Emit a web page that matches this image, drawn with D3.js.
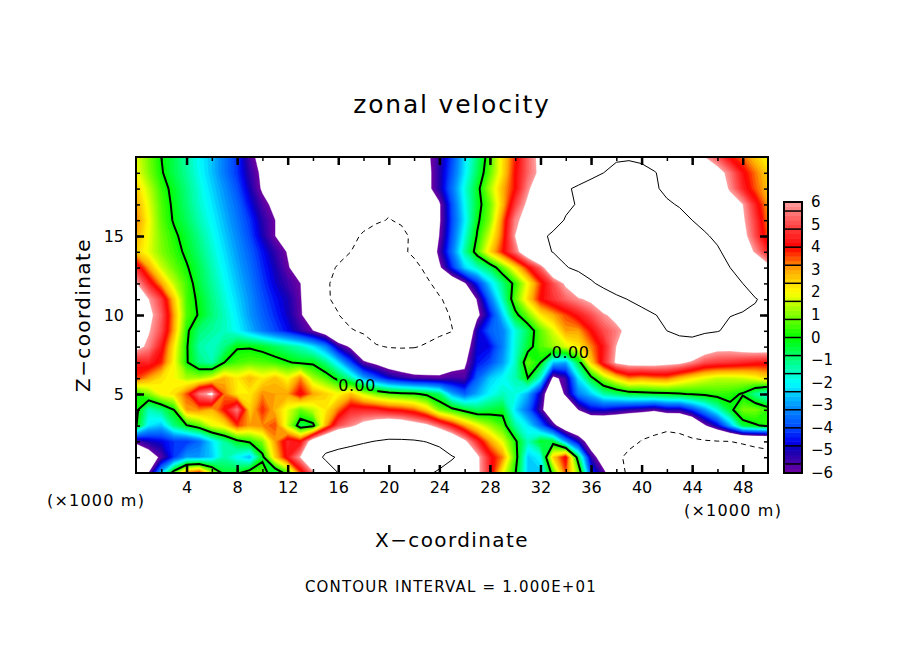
<!DOCTYPE html>
<html>
<head>
<meta charset="utf-8">
<script src="https://cdnjs.cloudflare.com/ajax/libs/d3/7.8.5/d3.min.js"></script>
<style>
  body { margin: 0; background: #fff; }
  text { font-family: "DejaVu Sans", sans-serif; fill: #000; }
</style>
</head>
<body>
<svg id="chart" width="904" height="654"></svg>
<script>
// zonal velocity: one value per km in x (0..50), one row per km in z
const xKm = d3.range(0, 51);
const z20 = [1.8,.9,0,-.6,-1.3,-2,-2.6,-3.4,-4.2,-5.6, -6.6,-7,-7.5,-7.8,-8,-8.3,-8.5,-8.7,-8.8,-8.9, -9,-8.6,-8,-6.3,-5.3,-4,-2.3,-.9,.5,2.3, 3.8,5.3,6.4,7,7.5,8,8.5,9,9.5,9.7, 9.5,9.2,9,8,7,6,5.1,4,3.4,2.6,2];
const z19 = [2,1,.1,-.6,-1.2,-1.9,-2.6,-3.4,-4.2,-5.3, -6.3,-6.8,-7.2,-7.6,-8,-8.3,-8.5,-8.7,-8.8,-8.8, -8.8,-8.5,-8,-6.5,-5.2,-3.8,-2.2,-.7,.7,2.3, 4,5.3,6.3,7,7.5,8.2,9,10,11,11, 10.7,10.1,9.5,8.8,8,7.3,6.6,5.5,4.2,3.3,2.5];
const z18 = [2.6,1.5,.4,-.3,-1,-1.7,-2.4,-3.1,-3.9,-5, -6.2,-6.6,-7,-7.4,-7.8,-8.2,-8.5,-8.8,-9,-9.1, -9.2,-8.8,-8.2,-6.5,-5.2,-3.5,-1.8,-.3,1.3,2.8, 4,5.7,7.3,8.5,9.6,10.5,11.5,12.3,13,12.6, 12,10.5,9.2,8.6,8,7.5,7,5.8,4.5,3.5,2.7];
const z17 = [3,1.8,.6,-.2,-.9,-1.6,-2.2,-2.9,-3.6,-4.6, -5.6,-6.4,-7,-7.4,-7.8,-8.2,-8.5,-8.9,-9.2,-9.4, -9.6,-9.1,-8.5,-7.3,-6.2,-3.9,-2,-.4,.8,2.7, 4.8,6.3,7.5,8.5,9.5,10.2,11,12.3,13.5,13.7, 13.5,12,10.5,9.7,9,8.3,7.5,6.8,6,4.4,3];
const z16 = [3.3,2,.7,-.1,-.7,-1.4,-2,-2.7,-3.4,-4.2, -5.2,-6,-6.8,-7.2,-7.5,-8,-8.5,-9,-9.5,-9.7, -10.1,-9.7,-9.3,-7.8,-6.2,-4,-2.2,-.2,1,3.3, 5.7,6.6,7.5,8.9,10.2,11.1,12,13,14,14.3, 14.5,13.5,12.5,11.2,10,9,8,7,6.2,4.8,3.2];
const z15 = [2.9,1.9,.9,.2,-.4,-1.1,-1.8,-2.5,-3.2,-4, -5,-6,-7,-7.5,-8,-8.5,-9,-9.6,-10.2,-11, -11.5,-10.6,-9.5,-7.6,-6,-3.8,-1.8,.1,1.7,3.5, 6,7.7,9.4,10.5,11.5,12.5,13.5,14.3,15,15, 15,14.3,13.5,12.5,11.5,10.4,9.3,7.9,6.5,5,3.5];
const z14 = [2.6,1.8,1,.4,-.2,-.9,-1.6,-2.3,-3,-3.7, -4.5,-5.3,-6.1,-6.8,-7.5,-8.2,-9,-10,-11,-11.5, -12,-10.6,-9.4,-8,-5.6,-3.5,-1.3,.5,2.4,3.9, 5.4,7.3,9.2,10.1,11,12,13,14,15,15.3, 15.5,15,14.5,13.5,12.5,11.5,10.5,8.8,7,5.8,4.5];
const z13 = [4.6,3,1.6,.8,.1,-.6,-1.4,-2.1,-2.8,-3.5, -4.3,-5,-5.9,-6.7,-7.7,-9,-10.3,-11,-11.7,-12.2, -12.5,-11.8,-10.9,-9.3,-6.3,-4.3,-2.4,-1.5,-.7,.7, 2.3,3.9,5.3,7.7,9.8,10.7,11.7,12.9,14,14.8, 15.5,15.3,15,14,13,12,11,10,9,7.8,6.5];
const z12 = [6.1,4.5,3,1.5,.5,-.5,-1.2,-1.9,-2.6,-3.3, -4.1,-4.8,-5.4,-6,-7.5,-9.7,-10.6,-11.3,-12,-12.5, -13,-12.7,-12,-10.5,-9,-7.5,-6.2,-4.3,-2.4,-1, .3,2,3.7,5,6.2,7.9,9.5,11,12.5,13.5, 14.5,14.8,15,14.3,13.5,12.5,11.5,10.7,10,9,8];
const z11 = [7.5,6,4.8,2.6,.5,-.2,-1,-1.7,-2.4,-3.1, -3.9,-4.5,-5,-5.9,-7.5,-9.7,-10.5,-11.8,-13,-13.5, -14,-13.5,-13,-11.7,-10.3,-9,-8,-5.9,-3.5,-1.5, .7,2.4,4,4.7,5.3,5.8,6.3,7.7,9,10.2, 11.5,12.8,14,14,14,13,12,11.4,10.8,10.1,9.5];
const z10 = [7.5,6.4,5.2,3,.6,-.1,-.9,-1.5,-2.2,-3, -3.7,-4.3,-4.9,-5.8,-7.4,-8.7,-9.9,-11.4,-13,-14, -15,-14.3,-13.5,-12.3,-11,-9.7,-9,-6.4,-4.5,-2.5, -.3,.9,2.2,2.9,3.6,4.3,5,5.8,6.5,7.5, 8.5,9.8,11,11.3,11.5,11,10.5,10.1,9.8,9.7,9.5];
const z9 = [7,6.1,5,2.9,.2,-.9,-1.2,-1.5,-2,-2.7, -3.4,-4,-4.6,-5.3,-6,-7,-8.7,-9.7,-10.5,-11.8, -13,-12.5,-12,-11,-10.4,-10.1,-8.5,-5,-3.7,-3.3, -1.8,-.7,.7,1.7,3,3,4,5,5.6,6.5, 8,9,10,10.8,11,10.6,10.2,9.2,8,8,8];
const z8 = [6.5,5.7,4.3,2.2,.1,-1.3,-1.6,-1,-.1,-.1, -.3,-.7,-1.1,-1.5,-2.2,-3.2,-5.2,-6.3,-8,-9.7, -10.2,-10.3,-10.2,-9.7,-9.3,-8,-7,-4.8,-4.6,-3.3, -1.7,-.4,.6,1.2,1.7,2.2,3.2,4.3,6,6.6, 7,7.5,8,8.3,8.5,7,6.5,6.5,6.8,7,7];
const z7 = [4.4,4.5,3.8,2,.1,-1,-1.4,0,.5,.7, .6,.4,.1,-.2,-.2,-1,-2.3,-4,-5.8,-6.4, -7,-7.3,-7.5,-7.3,-7,-6.7,-6.3,-4.5,-4,-3, -1.6,.8,0,-2.5,-2.8,-.5,2.5,4.5,6.2,6.6, 6.7,6.7,6.5,6.3,5.7,5,4.8,4.7,4.5,4.3,4.2];
const z6 = [3.7,3,2.3,2,1.3,1.3,1.8,2.8,2.2,2.8, 2.2,2.7,2,3.2,1.3,.6,-.3,-1.3,-2.8,-3.8, -4.7,-5.2,-5.6,-5.7,-5.8,-5.5,-5.6,-3.7,-2.5,-2, -1.4,0,-1.7,-6.5,-5.4,-2.2,-.3,1.2,2.3,3.2, 3,3.2,3.3,2.7,2.2,1.8,1.5,1.5,1.6,1.9,2.4];
const z5 = [0,1,2,2.3,3.5,5.5,6.3,3.3,2.2,2.2, 3.2,3,3,4.2,3,2.5,2,2.7,1.6,.9, .5,.3,.15,-.2,-.8,-2.8,-3.7,-2.8,-2,-1.5, -1.8,-2.8,-5,-8,-5.7,-3.3,-2.5,-1.3,-.9,-.5, -.4,-.3,-.2,-.1,.1,.2,.4,.3,-.1,-1.2,-2];
const z4 = [.3,-1.5,-1,0,3,3.2,2.8,4,5.6,2.5, 3.8,2.8,1.8,.8,1.5,2.2,3.3,4.5,4.5,4.4, 4,3.8,3.4,2.5,.9,.3,-.3,-.8,-.5,-.3, -2.3,-3.6,-5.5,-8,-8.5,-6,-4.8,-4.7,-5,-5.3, -5.5,-5.8,-5.2,-5.2,-4.2,-3,-1.7,-.3,.9,.9,.4];
const z3 = [.1,-2.2,-2.6,-1,-.1,.6,1.8,2.2,3.7,3, 3.2,3.6,1.5,-.6,-.3,2.8,5,5.7,6.5,7, 7.5,7.3,6.8,6.3,5.3,4.2,3,2,1.2,.5, -1.3,-2.2,-3.6,-5.5,-7.5,-8,-8.5,-8.5,-8.5,-8.8, -9,-9.2,-9.4,-9.2,-8.5,-6.2,-4.8,-2.8,-.5,-.1,.2];
const z2 = [-5.7,-5,-4.7,-4.2,-4.2,-3.6,-2.3,-1.2,-.3,.2, 1,3,4.5,4,7,8.5,9,9.3,9.7,10.1, 10.4,10.4,10.3,9.9,9.2,7.8,6.3,4.5,3,1.8, .2,-1.5,-.3,-.5,-3,-5,-7,-8,-8.5,-9.2, -10.1,-10.5,-11,-10.8,-10.4,-10.3,-10.1,-10,-9.8,-9.6,-9.5];
const z1 = [-8,-7,-5.7,-4.2,-3,-3,-2.5,-1.3,-2,-2.7, -.3,2.5,4.3,6,8.5,10.5,11,11.5,12,12.3, 12.5,12.5,12.5,12,11.5,10.2,9.3,6.3,4.3,3.2, .5,-2.5,-2,2.5,4.2,-.7,-5.3,-7,-9.3,-10.7, -12,-12.5,-13,-13,-13,-12.5,-12,-11.5,-11,-10.7,-10.5];
const z0 = [-8.5,-6,-2.5,.7,3.3,4,1.5,-.4,-.2,.6, .7,-1,.5,3.5,5.6,8,10,11,12,12.5, 13,13,12.5,10.5,9.5,9,9,6.3,4.5,2, .1,-2.5,-2.5,.5,3.5,1,-4,-5.7,-7.5,-11, -13,-13,-13,-13.5,-13.5,-13,-13,-12.5,-12,-11,-10.3];

const xTickLabels = [4, 8, 12, 16, 20, 24, 28, 32, 36, 40, 44, 48];
const zTickLabels = [5, 10, 15];
const keyLabels = [-6, -5, -4, -3, -2, -1, 0, 1, 2, 3, 4, 5, 6];

const rows = [z20, z19, z18, z17, z16, z15, z14, z13, z12, z11, z10,
              z9, z8, z7, z6, z5, z4, z3, z2, z1, z0];

// fill levels every 0.2, white outside +-6
const levels = d3.range(0, 61).map((i) => -6 + i * 0.2);
const paletteStops = [-6, -5.5, -5, -4.6, -4, -3, -2, -1, 0, 1, 2, 3, 4, 5, 6];
const paletteColors = ["#7000a0", "#4400aa", "#1400b0", "#0000f0", "#0048ff", "#0096ff",
  "#00ffff", "#00ff80", "#00ff00", "#80ff00", "#ffff00", "#ffa800", "#ff0000", "#ff4848", "#ffa0a0"];
const color = d3.scaleLinear().domain(paletteStops).range(paletteColors);

const svg = d3.select("#chart");
const x = d3.scaleLinear().domain([0, 50]).range([136, 768]);
const z = d3.scaleLinear().domain([0, 20]).range([473, 157]);
const keyY = d3.scaleLinear().domain([-6, 6]).range([473, 202]);

const defs = svg.append("defs");
defs.append("clipPath").attr("id", "plot-clip").append("rect")
  .attr("x", x(0)).attr("y", z(20)).attr("width", x(50) - x(0)).attr("height", z(0) - z(20));

// holes in the zero contour for its two labels
const zeroLabels = [[16, 5.57], [32.9, 7.66]];
const mask = defs.append("mask").attr("id", "label-gap").attr("maskUnits", "userSpaceOnUse")
  .attr("x", 0).attr("y", 0).attr("width", 904).attr("height", 654);
mask.append("rect").attr("width", 904).attr("height", 654).attr("fill", "#fff");
mask.selectAll("rect.gap").data(zeroLabels).join("rect").attr("class", "gap")
  .attr("x", (d) => x(d[0]) - 1).attr("y", (d) => z(d[1]) - 10)
  .attr("width", 40).attr("height", 20).attr("fill", "#000");

const grid = rows.flat();
const contours = d3.contours().size([xKm.length, rows.length]);
const toPlot = d3.geoTransform({
  point(i, j) {
    this.stream.point(x(i - 0.5), z(20 - (j - 0.5)));
  },
});
const path = d3.geoPath(toPlot);

const plot = svg.append("g").attr("clip-path", "url(#plot-clip)");
plot.selectAll("path.band")
  .data(levels.map((t) => contours.contour(grid, t)))
  .join("path")
  .attr("class", "band")
  .attr("d", path)
  .attr("fill", (d) => (d.value >= 5.999 ? "#fff" : color(d.value + 0.1)))
  .attr("stroke", (d) => (d.value >= 5.999 ? "#fff" : color(d.value + 0.1)))
  .attr("stroke-width", 0.4);

// contour lines: interval 10, zero heavy, negative dashed
plot.append("path").datum(contours.contour(grid, 10)).attr("d", path)
  .attr("fill", "none").attr("stroke", "#000").attr("stroke-width", 1);
plot.append("path").datum(contours.contour(grid, -10)).attr("d", path)
  .attr("fill", "none").attr("stroke", "#000").attr("stroke-width", 1).attr("stroke-dasharray", "5 4");
plot.append("g").attr("mask", "url(#label-gap)")
  .append("path").datum(contours.contour(grid, 0)).attr("d", path)
  .attr("fill", "none").attr("stroke", "#000").attr("stroke-width", 2);

plot.selectAll("text.zero").data(zeroLabels).join("text").attr("class", "zero")
  .attr("x", (d) => x(d[0])).attr("y", (d) => z(d[1]) + 6)
  .attr("font-size", 16).attr("letter-spacing", 0.5).text("0.00");

// axes, ticks pointing inward on all four sides
const xMinor = d3.range(2, 50, 2);
const zMinor = d3.range(1, 20, 1);
function drawAxis(axisFn, scale, minor, major, translate, labelled, padding) {
  const minorAxis = axisFn(scale).tickValues(minor).tickSize(-4).tickFormat("");
  const majorAxis = axisFn(scale).tickValues(major).tickSize(-8).tickPadding(padding);
  if (!labelled) majorAxis.tickFormat("");
  const g = svg.append("g").attr("transform", translate);
  g.append("g").call(minorAxis);
  const m = g.append("g").call(majorAxis);
  g.selectAll(".domain").remove();
  g.selectAll("line").attr("stroke", "#000").attr("stroke-width", 1.5);
  m.selectAll("line").attr("stroke-width", 2.5);
  m.selectAll("text").attr("font-size", 16).attr("font-family", "DejaVu Sans").attr("fill", "#000");
  return m;
}
drawAxis(d3.axisBottom, x, xMinor, xTickLabels, `translate(0,${z(0)})`, true, 9);
drawAxis(d3.axisTop, x, xMinor, xTickLabels, `translate(0,${z(20)})`, false, 9);
drawAxis(d3.axisLeft, z, zMinor, zTickLabels, `translate(${x(0)},0)`, true, 12);
drawAxis(d3.axisRight, z, zMinor, zTickLabels, `translate(${x(50)},0)`, false, 12);
svg.append("rect").attr("x", x(0)).attr("y", z(20))
  .attr("width", x(50) - x(0)).attr("height", z(0) - z(20))
  .attr("fill", "none").attr("stroke", "#000").attr("stroke-width", 2);

// colour key
const keyX = 784, keyW = 18;
const key = svg.append("g");
key.selectAll("rect").data(levels.slice(0, -1)).join("rect")
  .attr("x", keyX).attr("width", keyW)
  .attr("y", (d) => keyY(d + 0.2)).attr("height", (d) => keyY(d) - keyY(d + 0.2) + 0.5)
  .attr("fill", (d) => color(d + 0.1));
key.selectAll("line").data(d3.range(0, 15).map((i) => -5.6 + i * 0.8)).join("line")
  .attr("x1", keyX).attr("x2", keyX + keyW)
  .attr("y1", (d) => keyY(d)).attr("y2", (d) => keyY(d))
  .attr("stroke", "#000").attr("stroke-width", 1.5);
key.append("rect").attr("x", keyX).attr("y", keyY(6)).attr("width", keyW)
  .attr("height", keyY(-6) - keyY(6)).attr("fill", "none").attr("stroke", "#000").attr("stroke-width", 2);
key.selectAll("text").data(keyLabels).join("text")
  .attr("x", keyX + 27).attr("y", (d) => keyY(d) + 5)
  .attr("font-size", 15).text((d) => String(d).replace("-", "\u2212"));

// titles
svg.append("text").attr("x", 452).attr("y", 113).attr("text-anchor", "middle")
  .attr("font-size", 25).attr("letter-spacing", 1.8).text("zonal velocity");
svg.append("text").attr("x", 452).attr("y", 547).attr("text-anchor", "middle")
  .attr("font-size", 20).attr("letter-spacing", 1.4).text("X\u2212coordinate");
svg.append("text").attr("transform", "translate(90,315) rotate(-90)").attr("text-anchor", "middle")
  .attr("font-size", 20).attr("letter-spacing", 1.4).text("Z\u2212coordinate");
svg.append("text").attr("x", 47).attr("y", 506).attr("font-size", 16).attr("letter-spacing", 1.2).text("(\u00d71000 m)");
svg.append("text").attr("x", 684).attr("y", 516).attr("font-size", 16).attr("letter-spacing", 1.2).text("(\u00d71000 m)");
svg.append("text").attr("x", 451).attr("y", 592).attr("text-anchor", "middle")
  .attr("font-size", 15).attr("letter-spacing", 1.2).text("CONTOUR INTERVAL = 1.000E+01");
</script>
</body>
</html>
